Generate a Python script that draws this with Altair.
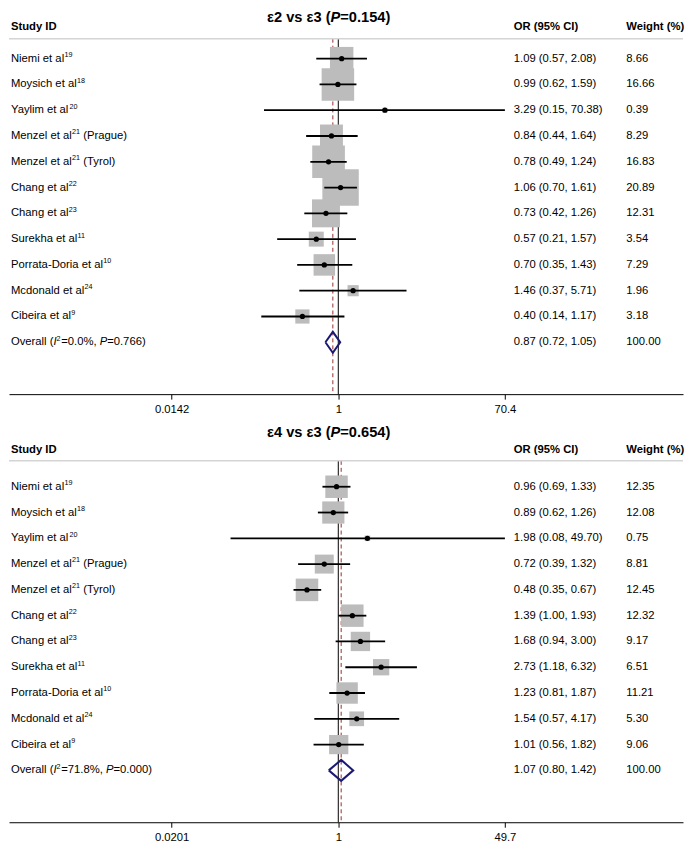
import math
import altair as alt
import pandas as pd

FONT = "Liberation Sans"

# ---------------- data ----------------
study_names = ["Niemi et al", "Moysich et al", "Yaylim et al", "Menzel et al", "Menzel et al",
               "Chang et al", "Chang et al", "Surekha et al", "Porrata-Doria et al",
               "Mcdonald et al", "Cibeira et al"]
study_refs = ["19", "18", "20", "21", "21", "22", "23", "11", "10", "24", "9"]
study_suffix = ["", "", "", "(Prague)", "(Tyrol)", "", "", "", "", "", ""]

# panel 1: e2 vs e3
or_23 = [1.09, 0.99, 3.29, 0.84, 0.78, 1.06, 0.73, 0.57, 0.70, 1.46, 0.40]
lo_23 = [0.57, 0.62, 0.15, 0.44, 0.49, 0.70, 0.42, 0.21, 0.35, 0.37, 0.14]
hi_23 = [2.08, 1.59, 70.38, 1.64, 1.24, 1.61, 1.26, 1.57, 1.43, 5.71, 1.17]
w_23 = [8.66, 16.66, 0.39, 8.29, 16.83, 20.89, 12.31, 3.54, 7.29, 1.96, 3.18]
overall_23 = [0.87, 0.72, 1.05]
i2_23 = "0.0%"
phet_23 = "0.766"
ptitle_23 = "0.154"
ticks_23 = [0.0142, 1, 70.4]

# panel 2: e4 vs e3
or_43 = [0.96, 0.89, 1.98, 0.72, 0.48, 1.39, 1.68, 2.73, 1.23, 1.54, 1.01]
lo_43 = [0.69, 0.62, 0.08, 0.39, 0.35, 1.00, 0.94, 1.18, 0.81, 0.57, 0.56]
hi_43 = [1.33, 1.26, 49.70, 1.32, 0.67, 1.93, 3.00, 6.32, 1.87, 4.17, 1.82]
w_43 = [12.35, 12.08, 0.75, 8.81, 12.45, 12.32, 9.17, 6.51, 11.21, 5.30, 9.06]
overall_43 = [1.07, 0.80, 1.42]
i2_43 = "71.8%"
phet_43 = "0.000"
ptitle_43 = "0.654"
ticks_43 = [0.0201, 1, 49.7]

# ---------------- layout / style ----------------
W = 677
ONE_PX = 330.75      # pixel of OR = 1
TICK_PX = 498.1      # pixel of the largest tick
STEP = 25.9          # row spacing in px
FS = 11.3
SUP_FS = 7.2
X_LABEL, X_OR, X_WT = 2, 507, 620

# Arial / Liberation Sans advance widths (1/1000 em)
ADV = {' ': 278, '(': 333, ')': 333, '%': 889, ',': 278, '.': 278, '=': 584, '-': 333,
       '²': 333, 'a': 556, 'b': 556, 'c': 500, 'd': 556, 'e': 556, 'f': 278, 'g': 556,
       'h': 556, 'i': 222, 'j': 222, 'k': 500, 'l': 222, 'm': 833, 'n': 556, 'o': 556,
       'p': 556, 'q': 556, 'r': 333, 's': 500, 't': 278, 'u': 556, 'v': 500, 'w': 722,
       'x': 500, 'y': 500, 'z': 500, 'C': 722, 'D': 722, 'I': 278, 'M': 833, 'N': 722,
       'O': 778, 'P': 667, 'S': 667, 'T': 611, 'Y': 667}


def tw(s, fs):
    return sum(ADV.get(c, 556) for c in s) / 1000 * fs


def panel(name, ptitle, ors, los, his, ws, overall, i2, phet, ticks, g):
    H = g["H"]
    tmax = ticks[-1]
    k = (TICK_PX - ONE_PX) / math.log(tmax)
    xs = alt.Scale(type="log", domain=[math.exp(-ONE_PX / k), math.exp((W - ONE_PX) / k)], nice=False)
    r_top = -g["row0"] / STEP
    ys = alt.Scale(domain=[r_top, r_top + H / STEP], reverse=True, nice=False, zero=False)
    ax = alt.Axis(values=ticks, format="~g", title=None, grid=False, domainColor="black",
                  tickColor="black", tickSize=5, tickWidth=1, domainWidth=1,
                  labelFont=FONT, labelFontSize=FS, labelColor="black", labelPadding=4,
                  labelFlush=False, labelOverlap=False)

    def X(f):
        return alt.X(f"{f}:Q", scale=xs, axis=ax)

    Y = alt.Y("row:Q", scale=ys, axis=None)

    n = len(ors)
    df = pd.DataFrame({
        "row": list(range(n)), "label": study_names, "or": ors, "lo": los, "hi": his, "w": ws,
        "ortext": [f"{a:.2f} ({b:.2f}, {c:.2f})" for a, b, c in zip(ors, los, his)],
        "wtext": [f"{v:.2f}" for v in ws],
    })
    ov = pd.DataFrame({"row": [n], "or": [overall[0]], "lo": [overall[1]], "hi": [overall[2]],
                       "ortext": [f"{overall[0]:.2f} ({overall[1]:.2f}, {overall[2]:.2f})"],
                       "wtext": ["100.00"]})
    h = 10.5 / STEP
    dia = pd.DataFrame({"x": [overall[1], overall[0], overall[2], overall[0], overall[1]],
                        "row": [n, n - h, n, n + h, n], "ord": [0, 1, 2, 3, 4]})
    null_df = pd.DataFrame({"x": [1]})

    sep = g["sep"]
    layers = []
    layers.append(alt.Chart(null_df).mark_rule(color="black", strokeWidth=1).encode(
        x=X("x"), y=alt.value(sep), y2=alt.value(H)))
    layers.append(alt.Chart(ov).mark_rule(color="#9b2d2d", strokeWidth=1, strokeDash=[4, 3]).encode(
        x=X("or"), y=alt.value(sep), y2=alt.value(H)))
    layers.append(alt.Chart(df).mark_square(color="#bcbcbc", opacity=1).encode(
        x=X("or"), y=Y,
        size=alt.Size("w:Q", scale=alt.Scale(domain=[0, max(ws)], range=[0, g["area"] * max(ws)]),
                      legend=None)))
    layers.append(alt.Chart(df).mark_rule(color="black", strokeWidth=1.8).encode(
        x=X("lo"), x2="hi:Q", y=Y))
    layers.append(alt.Chart(df).mark_circle(color="black", size=28, opacity=1).encode(
        x=X("or"), y=Y))
    layers.append(alt.Chart(dia).mark_line(color="#1a1a74", strokeWidth=2, strokeJoin="miter").encode(
        x=X("x"), y=Y, order="ord:Q"))
    # separator
    layers.append(alt.Chart(null_df).mark_rule(color="#d4d4d4", strokeWidth=1.5).encode(
        x=alt.value(0), x2=alt.value(W), y=alt.value(sep)))
    # headers
    for txt, xp in [("Study ID", X_LABEL), ("OR (95% CI)", X_OR), ("Weight (%)", X_WT)]:
        layers.append(alt.Chart(null_df).mark_text(
            text=txt, align="left", baseline="middle", font=FONT, fontSize=FS, fontWeight="bold",
            color="black").encode(x=alt.value(xp), y=alt.value(g["header"])))
    # title (P italic)
    tfs = 14.7
    xc = g["title_x"]
    for txt, xp, al, sty in [(f"{name} (", xc, "right", "normal"), ("P", xc, "left", "italic"),
                             (f"={ptitle})", xc + 0.667 * tfs, "left", "normal")]:
        layers.append(alt.Chart(null_df).mark_text(
            text=txt, align=al, baseline="middle", font=FONT, fontSize=tfs, fontWeight="bold",
            fontStyle=sty, color="black").encode(x=alt.value(xp), y=alt.value(g["title"])))
    # study text columns
    text_kw = dict(align="left", baseline="middle", font=FONT, fontSize=FS, color="black")
    layers.append(alt.Chart(df).mark_text(**text_kw).encode(x=alt.value(X_LABEL), y=Y, text="label:N"))
    # superscript references and suffixes, one row at a time
    for i in range(n):
        row_df = df.iloc[[i]]
        x_sup = X_LABEL + tw(study_names[i], FS)
        layers.append(alt.Chart(row_df).mark_text(
            text=study_refs[i], align="left", baseline="middle", font=FONT, fontSize=SUP_FS,
            color="black", dy=-3.6).encode(x=alt.value(x_sup + 0.3), y=Y))
        if study_suffix[i]:
            x_suf = x_sup + 0.6 + tw(study_refs[i], SUP_FS) + tw(" ", FS)
            layers.append(alt.Chart(row_df).mark_text(text=study_suffix[i], **text_kw).encode(
                x=alt.value(x_suf), y=Y))
    layers.append(alt.Chart(df).mark_text(**text_kw).encode(x=alt.value(X_OR), y=Y, text="ortext:N"))
    layers.append(alt.Chart(df).mark_text(**text_kw).encode(x=alt.value(X_WT), y=Y, text="wtext:N"))
    layers.append(alt.Chart(ov).mark_text(**text_kw).encode(x=alt.value(X_OR), y=Y, text="ortext:N"))
    layers.append(alt.Chart(ov).mark_text(**text_kw).encode(x=alt.value(X_WT), y=Y, text="wtext:N"))
    # overall label with italic I and P, superscript 2
    segs = [("Overall (", "normal", FS, 0), ("I", "italic", FS, 0), ("2", "normal", SUP_FS, -3.6),
            (f"={i2}, ", "normal", FS, 0), ("P", "italic", FS, 0), (f"={phet})", "normal", FS, 0)]
    xp = X_LABEL
    for txt, sty, fs, dy in segs:
        layers.append(alt.Chart(ov).mark_text(
            text=txt, align="left", baseline="middle", font=FONT, fontSize=fs, color="black",
            fontStyle=sty, dy=dy).encode(x=alt.value(xp), y=Y))
        xp += tw(txt, fs) + (0.6 if fs == SUP_FS else 0)

    return alt.layer(*layers).properties(width=W, height=H).resolve_scale(size="independent")


g_top = dict(H=385, title=7, header=16, sep=28, row0=48, area=64, title_x=323)
g_bot = dict(H=398, title=7, header=24, sep=35, row0=61, area=41.2, title_x=323)

top = panel("ε2 vs ε3", ptitle_23, or_23, lo_23, hi_23, w_23, overall_23, i2_23, phet_23, ticks_23, g_top)
bot = panel("ε4 vs ε3", ptitle_43, or_43, lo_43, hi_43, w_43, overall_43, i2_43, phet_43, ticks_43, g_bot)

chart = alt.vconcat(top, bot, spacing=10).resolve_scale(
    x="independent", y="independent", size="independent"
).configure_view(stroke=None).properties(padding=0)

chart.save("out.html", embed_options={"renderer": "svg", "actions": False})
